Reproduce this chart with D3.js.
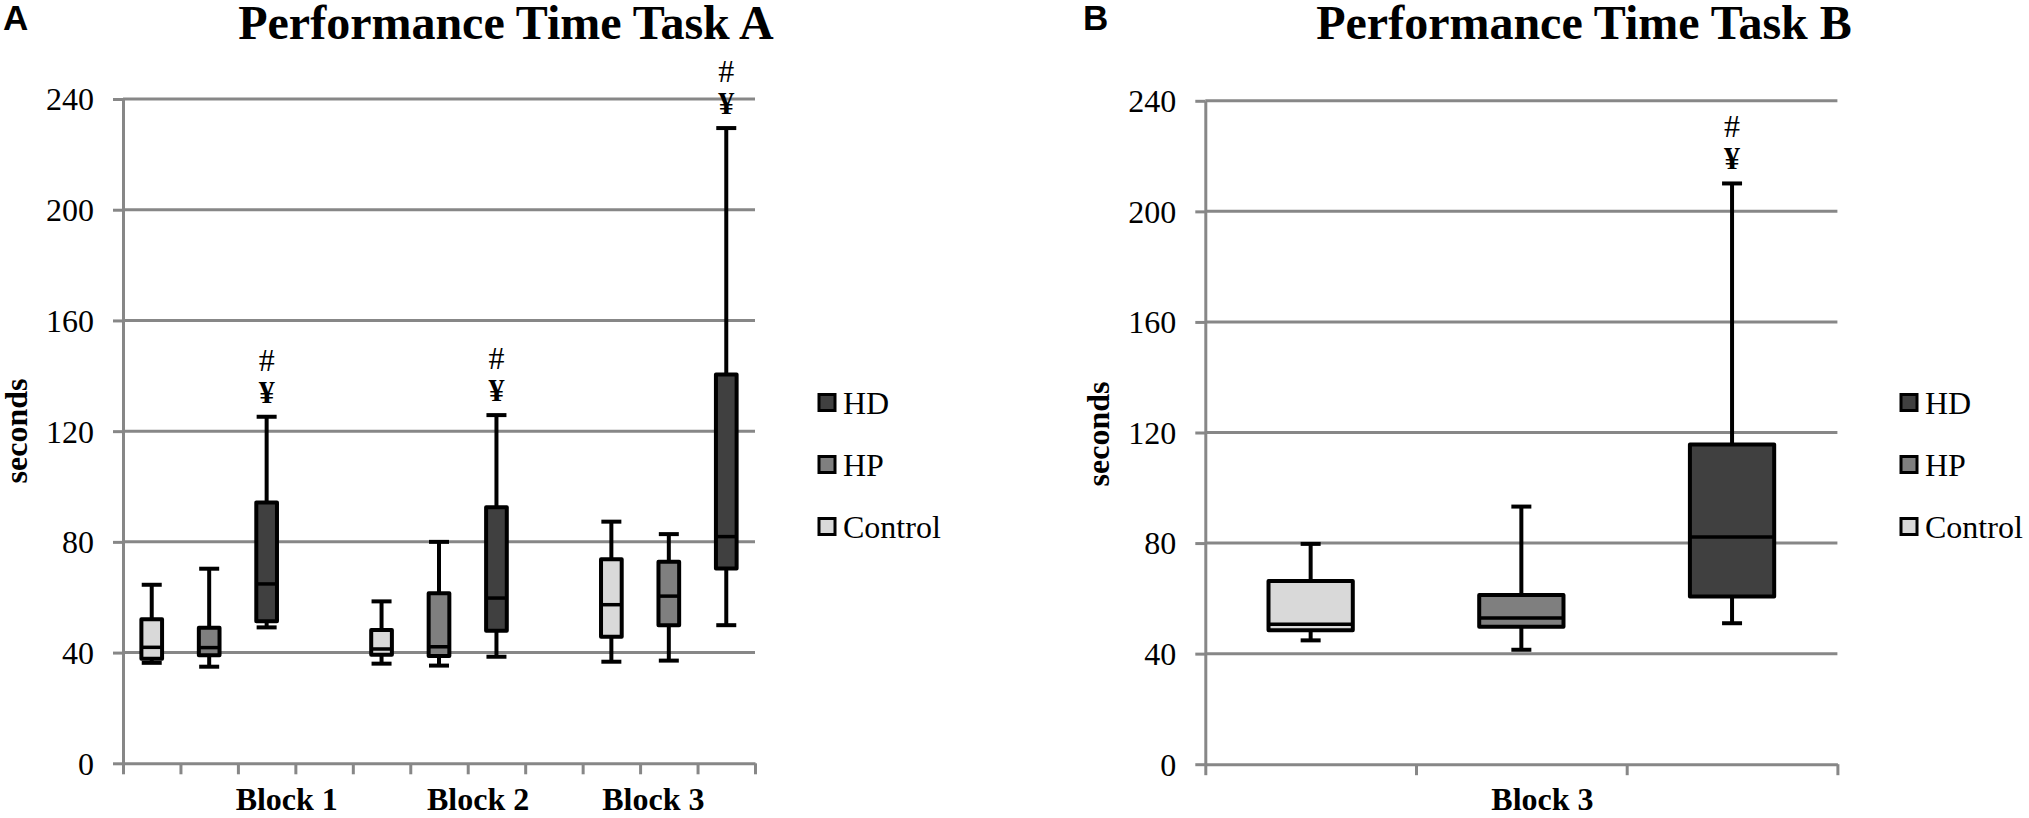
<!DOCTYPE html>
<html>
<head>
<meta charset="utf-8">
<script src="https://cdn.jsdelivr.net/npm/d3@7"></script>
<style>
  body { margin: 0; background: #fff; }
  svg { display: block; }
  text { font-family: 'Liberation Serif', 'Times New Roman', serif; fill: #000; }
  text.letter { font-family: 'Liberation Sans', Arial, sans-serif; font-size: 35px; font-weight: bold; }
</style>
</head>
<body>
<div id="chart"></div>
<script>
// groups, drawn left to right inside every block
const groups = ['Control', 'HP', 'HD'];
const legendOrder = ['HD', 'HP', 'Control'];
const yTicks = [0, 40, 80, 120, 160, 200, 240];

// Task A - order: Block 1 (Control, HP, HD), Block 2 (...), Block 3 (...)
const blocksA = ['Block 1', 'Block 2', 'Block 3'];
const minA = [36.3, 34.9, 49.1, 36.0, 35.3, 38.5, 36.7, 37.1, 49.9];
const q1A = [37.8, 39.0, 51.3, 39.2, 38.8, 47.9, 45.7, 49.9, 70.4];
const medA = [41.9, 41.8, 64.8, 41.3, 42.1, 59.7, 57.3, 60.4, 81.9];
const q3A = [52.0, 49.0, 94.2, 48.2, 61.4, 92.5, 73.7, 72.8, 140.5];
const maxA = [64.5, 70.3, 125.2, 58.5, 80.0, 125.8, 87.3, 82.8, 229.5];
const sigA = [false, false, true, false, false, true, false, false, true];

// Task B - Block 3 only (Control, HP, HD)
const blocksB = ['Block 3'];
const minB = [44.8, 41.4, 51.0];
const q1B = [48.5, 49.7, 60.7];
const medB = [50.6, 52.9, 82.2];
const q3B = [66.3, 61.2, 115.7];
const maxB = [79.7, 93.2, 210.1];
const sigB = [false, false, true];

const colors = { Control: '#d9d9d9', HP: '#7f7f7f', HD: '#404040' };
const gridColor = '#878787';

const svg = d3
  .select('#chart')
  .append('svg')
  .attr('width', 2029)
  .attr('height', 818);

function drawPanel(p) {
  // one slot per box, plus an empty slot between blocks (Excel style)
  const slots = [];
  p.blocks.forEach((b, bi) => {
    if (bi > 0) slots.push('gap' + bi);
    groups.forEach((g) => slots.push(b + '|' + g));
  });
  const x = d3.scaleBand().domain(slots).range([p.x0, p.x1]).padding(0);
  const xIdx = d3.scaleLinear().domain([0, slots.length]).range([p.x0, p.x1]);
  const y = d3.scaleLinear().domain([0, 240]).range([p.yZero, p.yTop]);

  const g = svg.append('g');

  // gridlines
  g.selectAll('line.grid')
    .data(yTicks.filter((t) => t > 0))
    .join('line')
    .attr('class', 'grid')
    .attr('x1', p.x0)
    .attr('x2', p.x1)
    .attr('y1', (d) => y(d))
    .attr('y2', (d) => y(d))
    .attr('stroke', gridColor)
    .attr('stroke-width', 3);

  // y axis
  const yAxis = g
    .append('g')
    .attr('transform', `translate(${p.x0},0)`)
    .call(
      d3.axisLeft(y).tickValues(yTicks).tickSize(10).tickSizeOuter(0).tickPadding(19),
    );
  yAxis.select('.domain').attr('stroke', gridColor).attr('stroke-width', 3);
  yAxis.selectAll('.tick line').attr('stroke', gridColor).attr('stroke-width', 3);
  yAxis
    .selectAll('.tick text')
    .attr('fill', '#000')
    .style('font-family', "'Liberation Serif', serif")
    .style('font-size', '32px')
    .attr('dy', '0.34em');

  // x axis, ticks between categories
  const xAxis = g
    .append('g')
    .attr('transform', `translate(0,${y(0)})`)
    .call(
      d3.axisBottom(xIdx)
        .tickValues(d3.range(slots.length + 1))
        .tickFormat('')
        .tickSize(11)
        .tickSizeOuter(0),
    );
  xAxis.select('.domain').attr('stroke', gridColor).attr('stroke-width', 3);
  xAxis.selectAll('.tick line').attr('stroke', gridColor).attr('stroke-width', 3);

  // block labels
  g.selectAll('text.block')
    .data(p.blocks)
    .join('text')
    .attr('class', 'block')
    .attr('x', (d, i) => xIdx(p.blockLabelAt[i]))
    .attr('y', 810)
    .attr('text-anchor', 'middle')
    .style('font-size', '32px')
    .style('font-weight', 'bold')
    .text((d) => d);

  // box data
  const boxes = [];
  p.blocks.forEach((b, bi) => {
    groups.forEach((grp, gi) => {
      const i = bi * groups.length + gi;
      boxes.push({
        slot: b + '|' + grp,
        group: grp,
        min: p.min[i],
        q1: p.q1[i],
        med: p.med[i],
        q3: p.q3[i],
        max: p.max[i],
        sig: p.sig[i],
      });
    });
  });

  const bw = x.bandwidth() * p.boxFrac;
  const capW = 20;
  const cx = (d) => x(d.slot) + x.bandwidth() / 2;

  const box = g
    .selectAll('g.box')
    .data(boxes)
    .join('g')
    .attr('class', 'box');

  // whiskers
  box.append('line')
    .attr('x1', cx).attr('x2', cx)
    .attr('y1', (d) => y(d.max)).attr('y2', (d) => y(d.q3))
    .attr('stroke', '#000').attr('stroke-width', 4);
  box.append('line')
    .attr('x1', cx).attr('x2', cx)
    .attr('y1', (d) => y(d.q1)).attr('y2', (d) => y(d.min))
    .attr('stroke', '#000').attr('stroke-width', 4);
  box.append('line')
    .attr('x1', (d) => cx(d) - capW / 2).attr('x2', (d) => cx(d) + capW / 2)
    .attr('y1', (d) => y(d.max)).attr('y2', (d) => y(d.max))
    .attr('stroke', '#000').attr('stroke-width', 4);
  box.append('line')
    .attr('x1', (d) => cx(d) - capW / 2).attr('x2', (d) => cx(d) + capW / 2)
    .attr('y1', (d) => y(d.min)).attr('y2', (d) => y(d.min))
    .attr('stroke', '#000').attr('stroke-width', 4);

  // box
  box.append('rect')
    .attr('x', (d) => cx(d) - bw / 2)
    .attr('width', bw)
    .attr('y', (d) => y(d.q3))
    .attr('height', (d) => y(d.q1) - y(d.q3))
    .attr('fill', (d) => colors[d.group])
    .attr('stroke', '#000')
    .attr('stroke-width', 4)
    .attr('stroke-linejoin', 'round');

  // median
  box.append('line')
    .attr('x1', (d) => cx(d) - bw / 2).attr('x2', (d) => cx(d) + bw / 2)
    .attr('y1', (d) => y(d.med)).attr('y2', (d) => y(d.med))
    .attr('stroke', '#000').attr('stroke-width', 3.5);

  // significance marks
  const sig = box.filter((d) => d.sig);
  sig.append('text')
    .attr('x', cx)
    .attr('y', (d) => y(d.max) - 14)
    .attr('text-anchor', 'middle')
    .style('font-size', '32px')
    .style('font-weight', 'bold')
    .text('¥');
  sig.append('text')
    .attr('x', cx)
    .attr('y', (d) => y(d.max) - 46)
    .attr('text-anchor', 'middle')
    .style('font-size', '32px')
    .text('#');

  // y label
  g.append('text')
    .attr('transform', `translate(${p.yLabelX},${p.yLabelY}) rotate(-90)`)
    .attr('text-anchor', 'middle')
    .style('font-size', '32px')
    .style('font-weight', 'bold')
    .text('seconds');

  // title + panel letter
  g.append('text')
    .attr('x', p.titleX)
    .attr('y', 39)
    .attr('text-anchor', 'middle')
    .style('font-size', '48px')
    .style('font-weight', 'bold')
    .text(p.title);
  g.append('text')
    .attr('class', 'letter')
    .attr('x', p.letterX)
    .attr('y', 30)
    .text(p.letter);

  // legend
  const leg = g
    .selectAll('g.legend')
    .data(legendOrder)
    .join('g')
    .attr('class', 'legend')
    .attr('transform', (d, i) => `translate(${p.legendX},${402.5 + i * 62})`);
  leg.append('rect')
    .attr('x', 0).attr('y', -8)
    .attr('width', 16).attr('height', 16)
    .attr('fill', (d) => colors[d])
    .attr('stroke', '#000')
    .attr('stroke-width', 3);
  leg.append('text')
    .attr('x', 24)
    .attr('y', 11)
    .style('font-size', '32px')
    .text((d) => d);
}

drawPanel({
  letter: 'A',
  letterX: 3,
  title: 'Performance Time Task A',
  titleX: 506,
  x0: 123,
  x1: 755,
  yZero: 763.3,
  yTop: 99,
  blocks: blocksA,
  blockLabelAt: [2.85, 6.18, 9.23],
  min: minA, q1: q1A, med: medA, q3: q3A, max: maxA, sig: sigA,
  boxFrac: 0.36,
  yLabelX: 27,
  yLabelY: 431,
  legendX: 819,
});

drawPanel({
  letter: 'B',
  letterX: 1083,
  title: 'Performance Time Task B',
  titleX: 1584,
  x0: 1205.3,
  x1: 1837.4,
  yZero: 764.2,
  yTop: 100.8,
  blocks: blocksB,
  blockLabelAt: [1.6],
  min: minB, q1: q1B, med: medB, q3: q3B, max: maxB, sig: sigB,
  boxFrac: 0.4,
  yLabelX: 1109,
  yLabelY: 434,
  legendX: 1901,
});
</script>
</body>
</html>
